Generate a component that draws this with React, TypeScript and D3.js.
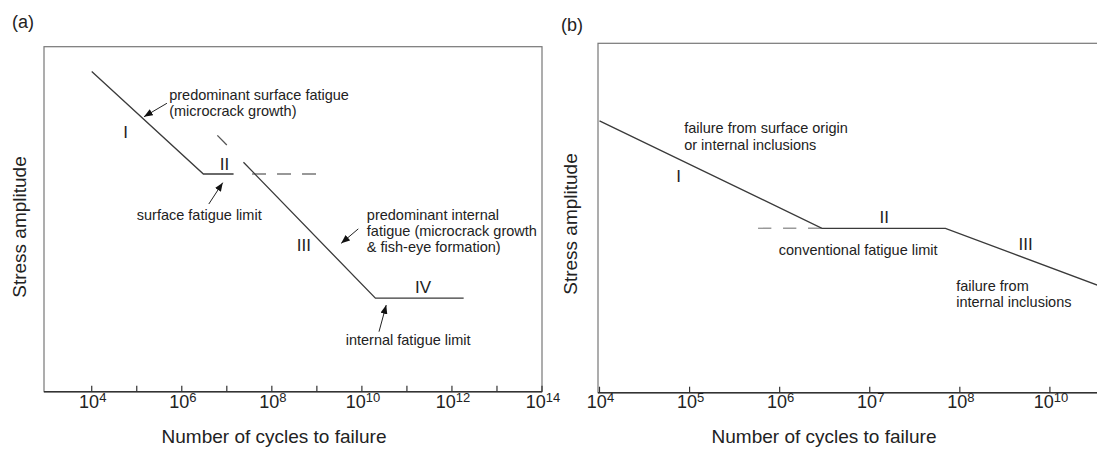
import React from "react";
import * as d3 from "d3";

const W = 1097;
const H = 451;
const FONT = "'Liberation Sans', Arial, Helvetica, sans-serif";

type Pt = [number, number];

// ---------- Panel (a): exponent of cycles (log10 N) vs relative stress ----------
const aTickExponents = [4, 5, 6, 7, 8, 9, 10, 11, 12, 13, 14];
const aLabelExponents = [4, 6, 8, 10, 12, 14];
const aSurfaceCurve: Pt[] = [[4.0, 92.8], [6.48, 63.1], [7.15, 63.1]];
const aSurfaceLimitDashed: Pt[] = [[7.56, 63.1], [9.0, 63.1]];
const aInternalCurve: Pt[] = [[7.37, 66.5], [10.3, 27.1], [12.26, 27.1]];
const aInternalExtension: Pt[] = [[6.79, 74.3], [7.0, 71.5]];
const aArrows: [Pt, Pt][] = [
  [[5.67, 83.6], [5.16, 79.7]],
  [[6.6, 54.4], [6.91, 60.6]],
  [[9.92, 47.2], [9.54, 43.0]],
  [[10.38, 17.4], [10.54, 25.1]],
];
const aNotes = [
  { text: "predominant surface fatigue", e: 5.72, s: 84.6 },
  { text: "(microcrack growth)", e: 5.72, s: 79.9 },
  { text: "surface fatigue limit", e: 5.0, s: 49.8 },
  { text: "predominant internal", e: 10.11, s: 49.8 },
  { text: "fatigue (microcrack growth", e: 10.11, s: 45.2 },
  { text: "& fish-eye formation)", e: 10.11, s: 40.5 },
  { text: "internal fatigue limit", e: 9.64, s: 13.5 },
];
const aRegimes = [
  { text: "I", e: 4.75, s: 73.5 },
  { text: "II", e: 6.95, s: 64.3 },
  { text: "III", e: 8.71, s: 40.8 },
  { text: "IV", e: 11.36, s: 28.6 },
];

// ---------- Panel (b): axis positions with their decade labels ----------
const bTickPositions = [0, 1, 2, 3, 4, 5];
const bTickExponents = ["4", "5", "6", "7", "8", "10"];
const bCurve: Pt[] = [[0, 77.8], [2.47, 47.05], [3.84, 47.05], [6.0, 26.2]];
const bLimitDashed: Pt[] = [[1.76, 47.05], [2.47, 47.05]];
const bNotes = [
  { text: "failure from surface origin", p: 0.94, s: 74.3 },
  { text: "or internal inclusions", p: 0.94, s: 69.5 },
  { text: "conventional fatigue limit", p: 1.99, s: 39.4 },
  { text: "failure from", p: 3.96, s: 29.1 },
  { text: "internal inclusions", p: 3.96, s: 24.5 },
];
const bRegimes = [
  { text: "I", p: 0.877, s: 60.4 },
  { text: "II", p: 3.16, s: 48.6 },
  { text: "III", p: 4.73, s: 40.8 },
];

const LINE = "#3a3a3a";
const TEXT = "#222";

export default function App() {
  // panel (a) scales
  const ax = d3.scaleLog().domain([10 ** 2.94, 1e14]).range([44, 542]);
  const ay = d3.scaleLinear().domain([0, 100]).range([391.7, 46.7]);
  const axE = (e: number) => ax(10 ** e);
  const aLine = d3
    .line<Pt>()
    .x((d) => axE(d[0]))
    .y((d) => ay(d[1]));

  // panel (b) scales
  const bx = d3.scaleLinear().domain([0, 6]).range([599.5, 1140]);
  const by = d3.scaleLinear().domain([0, 100]).range([392.7, 43.3]);
  const bLine = d3
    .line<Pt>()
    .x((d) => bx(d[0]))
    .y((d) => by(d[1]));

  const aBottom = ay(0);
  const bBottom = by(0);

  return (
    <svg
      width={W}
      height={H}
      viewBox={`0 0 ${W} ${H}`}
      style={{ position: "absolute", left: 0, top: 0, background: "#fff" }}
      fontFamily={FONT}
    >
      <defs>
        <marker
          id="head"
          viewBox="0 0 10 8"
          refX="10"
          refY="4"
          markerWidth="9"
          markerHeight="7"
          markerUnits="userSpaceOnUse"
          orient="auto"
        >
          <path d="M0,0 L10,4 L0,8 Z" fill="#111" />
        </marker>
      </defs>
      <rect x={0} y={0} width={W} height={H} fill="#fff" />

      {/* ===== Panel (a) ===== */}
      <text x={12} y={28} fontSize={18} fill={TEXT}>(a)</text>
      <rect
        x={axE(2.94)}
        y={ay(100)}
        width={axE(14) - axE(2.94)}
        height={ay(0) - ay(100)}
        fill="none"
        stroke="#777"
        strokeWidth={1.2}
      />
      <line x1={axE(2.94)} x2={axE(14)} y1={aBottom} y2={aBottom} stroke="#333" strokeWidth={1.5} />
      {aTickExponents.map((e) => (
        <line key={"at" + e} x1={axE(e)} x2={axE(e)} y1={aBottom} y2={aBottom - 6} stroke="#333" strokeWidth={1.2} />
      ))}
      {aLabelExponents.map((e) => (
        <text key={"al" + e} x={axE(e) + 1} y={408} fontSize={18} textAnchor="middle" fill={TEXT}>
          10<tspan fontSize={13} dy={-6}>{e}</tspan>
        </text>
      ))}
      <text x={274} y={443} fontSize={19} textAnchor="middle" fill={TEXT}>
        Number of cycles to failure
      </text>
      <text
        transform={`translate(26, ${227}) rotate(-90)`}
        fontSize={19}
        textAnchor="middle"
        fill={TEXT}
      >
        Stress amplitude
      </text>

      <path d={aLine(aSurfaceCurve) || ""} fill="none" stroke={LINE} strokeWidth={1.3} />
      <path d={aLine(aSurfaceLimitDashed) || ""} fill="none" stroke="#777" strokeWidth={1.4} strokeDasharray="14,11" />
      <path d={aLine(aInternalCurve) || ""} fill="none" stroke={LINE} strokeWidth={1.3} />
      <path d={aLine(aInternalExtension) || ""} fill="none" stroke="#555" strokeWidth={1.3} />
      {aArrows.map(([from, to], i) => (
        <line
          key={"aa" + i}
          x1={axE(from[0])}
          y1={ay(from[1])}
          x2={axE(to[0])}
          y2={ay(to[1])}
          stroke="#222"
          strokeWidth={1}
          markerEnd="url(#head)"
        />
      ))}
      {aNotes.map((n, i) => (
        <text key={"an" + i} x={axE(n.e)} y={ay(n.s)} fontSize={14.5} fill={TEXT}>
          {n.text}
        </text>
      ))}
      {aRegimes.map((r, i) => (
        <text key={"ar" + i} x={axE(r.e)} y={ay(r.s)} fontSize={17} textAnchor="middle" fill={TEXT}>
          {r.text}
        </text>
      ))}

      {/* ===== Panel (b) ===== */}
      <text x={561} y={31} fontSize={18} fill={TEXT}>(b)</text>
      <rect
        x={bx(0) - 1.5}
        y={by(100)}
        width={bx(6) - bx(0) + 1.5}
        height={by(0) - by(100)}
        fill="none"
        stroke="#777"
        strokeWidth={1.2}
      />
      <line x1={bx(0) - 1.5} x2={bx(6)} y1={bBottom} y2={bBottom} stroke="#333" strokeWidth={1.5} />
      {bTickPositions.map((p) => (
        <line key={"bt" + p} x1={bx(p)} x2={bx(p)} y1={bBottom} y2={bBottom - 6} stroke="#333" strokeWidth={1.2} />
      ))}
      {bTickPositions.map((p, i) => (
        <text key={"bl" + p} x={bx(p) + 1} y={408} fontSize={18} textAnchor="middle" fill={TEXT}>
          10<tspan fontSize={13} dy={-6}>{bTickExponents[i]}</tspan>
        </text>
      ))}
      <text x={824} y={443} fontSize={19} textAnchor="middle" fill={TEXT}>
        Number of cycles to failure
      </text>
      <text
        transform={`translate(577, ${224}) rotate(-90)`}
        fontSize={19}
        textAnchor="middle"
        fill={TEXT}
      >
        Stress amplitude
      </text>

      <path d={bLine(bLimitDashed) || ""} fill="none" stroke="#999" strokeWidth={1.4} strokeDasharray="13.3,11.7" />
      <path d={bLine(bCurve) || ""} fill="none" stroke={LINE} strokeWidth={1.3} />
      {bNotes.map((n, i) => (
        <text key={"bn" + i} x={bx(n.p)} y={by(n.s)} fontSize={14.5} fill={TEXT}>
          {n.text}
        </text>
      ))}
      {bRegimes.map((r, i) => (
        <text key={"br" + i} x={bx(r.p)} y={by(r.s)} fontSize={17} textAnchor="middle" fill={TEXT}>
          {r.text}
        </text>
      ))}
    </svg>
  );
}
